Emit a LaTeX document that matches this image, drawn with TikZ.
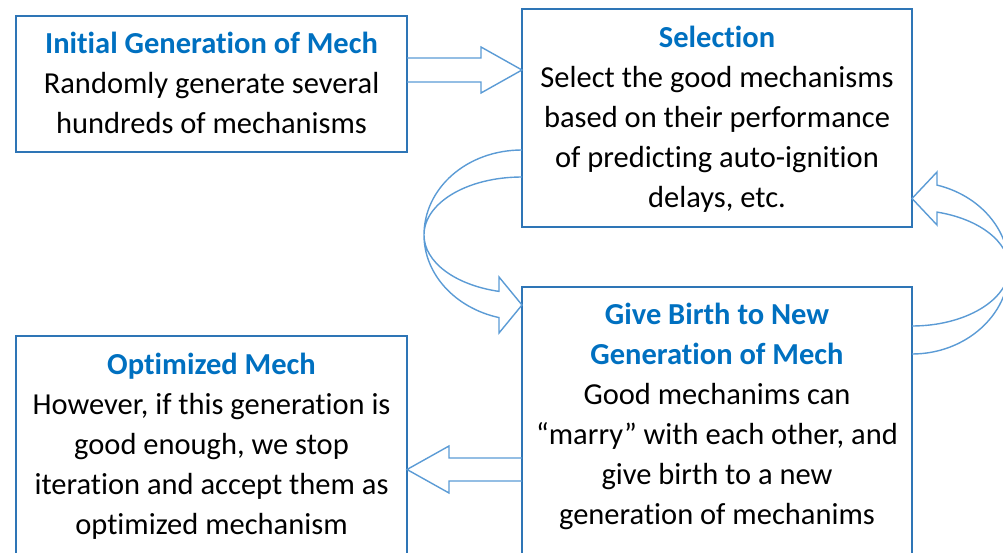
\documentclass[tikz,border=0pt]{standalone}
\usepackage{fontspec}
\setmainfont{Carlito}[Ligatures=NoCommon]
\definecolor{boxblue}{RGB}{46,117,182}
\definecolor{arrblue}{RGB}{91,155,213}
\definecolor{titleblue}{RGB}{0,112,192}
\newcommand{\ttl}[1]{\textbf{\textcolor{titleblue}{#1}}}
\begin{document}
\begin{tikzpicture}[x=1pt,y=-1pt,
  box/.style={draw=boxblue, line width=1.6pt, inner sep=0pt, outer sep=0pt},
  txt/.style={anchor=north, inner sep=0pt, align=center, font=\fontsize{30.5}{40}\selectfont},
  arr/.style={draw=arrblue, line width=1.4pt, line join=miter}]
\useasboundingbox (0,0) rectangle (1003,553);
\clip (0,0) rectangle (1003,553);
% boxes
\node[box, minimum width=391pt, minimum height=136pt] (b1) at (211.5,84) {};
\node[box, minimum width=390pt, minimum height=218pt] (b2) at (717,118) {};
\node[box, minimum width=390pt, minimum height=313pt] (b3) at (717,443.5) {};
\node[box, minimum width=391pt, minimum height=264pt] (b4) at (211.5,468) {};
% texts
\node[txt] (t1) at (211.5,25) {\rule{0pt}{28pt}\ttl{Initial Generation of Mech}\\Randomly generate several\\hundreds of mechanisms};
\node[txt] (t2) at (717,19) {\rule{0pt}{28pt}\ttl{Selection}\\Select the good mechanisms\\based on their performance\\of predicting auto-ignition\\delays, etc.};
\node[txt] (t3) at (717,296) {\rule{0pt}{28pt}\ttl{Give Birth to New}\\\ttl{Generation of Mech}\\Good mechanims can\\``marry'' with each other, and\\give birth to a new\\generation of mechanims};
\node[txt] (t4) at (211.5,346) {\rule{0pt}{28pt}\ttl{Optimized Mech}\\However, if this generation is\\good enough, we stop\\iteration and accept them as\\optimized mechanism};
% straight block arrows
\draw[arr] (b1.east |- 0,58) -- (481,58) -- (481,47) -- (b2.west |- 0,70) -- (481,93) -- (481,82) -- (b1.east |- 0,82);
\draw[arr] (b3.west |- 0,458) -- (449,458) -- (449,446) -- (b4.east |- 0,469.5) -- (449,493) -- (449,481) -- (b3.west |- 0,481);
% left curved arrow (selection -> give birth)
\draw[arr] (b2.west |- 0,150) .. controls (467,150) and (424,188) .. (424,235)
  .. controls (424,274) and (455,308) .. (499,317.6) -- (499,333) -- (b3.west |- 0,305)
  -- (499,277) -- (499,291.4) .. controls (455,285) and (424,262) .. (424,235)
  .. controls (424,203) and (467,177) .. (b2.west |- 0,177);
% right curved arrow (give birth -> selection)
\draw[arr] (b3.east |- 0,354) .. controls (965,354) and (1009,315.5) .. (1009,268)
  .. controls (1009,229.3) and (979.5,195.4) .. (937,185.1) -- (937,172) -- (b2.east |- 0,198.5)
  -- (937,225) -- (937,212.1) .. controls (979.5,219) and (1009,241.9) .. (1009,268)
  .. controls (1009,300) and (965,326) .. (b3.east |- 0,326);
\end{tikzpicture}
\end{document}
